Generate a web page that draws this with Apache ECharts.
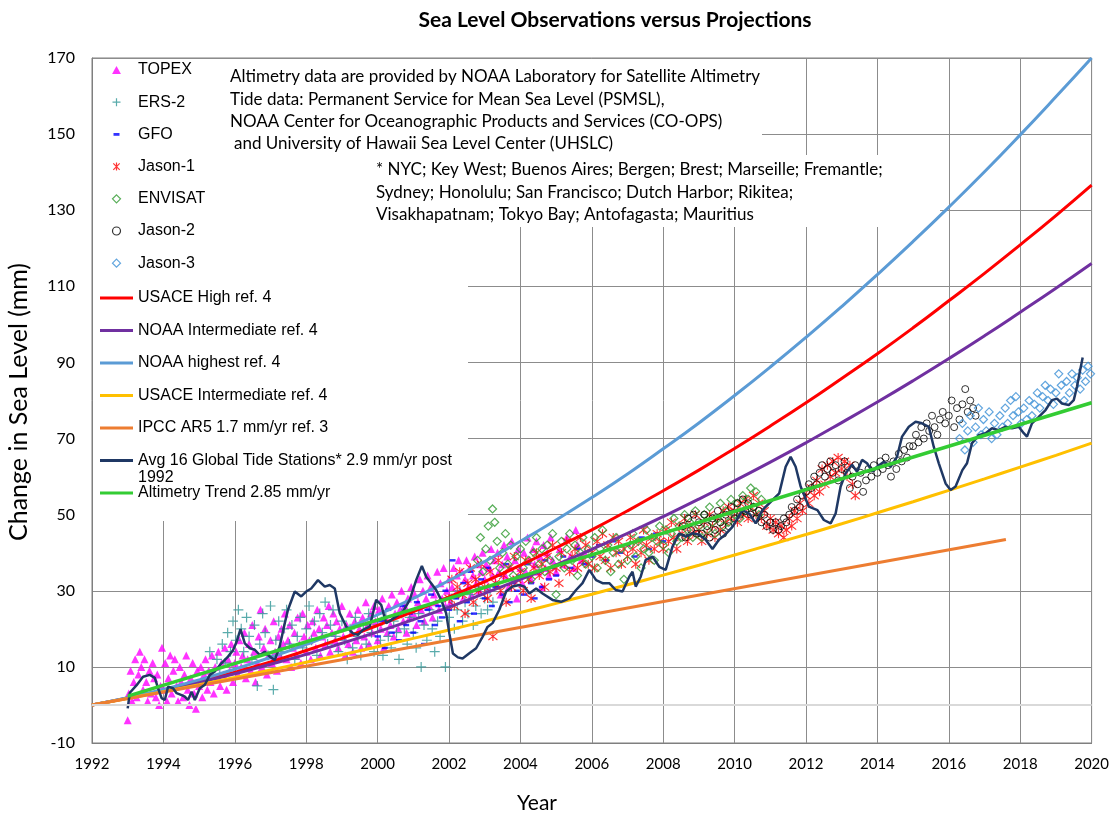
<!DOCTYPE html>
<html><head><meta charset="utf-8">
<script src="https://cdn.jsdelivr.net/npm/echarts@6/dist/echarts.min.js"></script>
<style>html,body{margin:0;padding:0;background:#fff}#c{width:1112px;height:817px}</style>
</head><body><div id="c"></div>
<script>
// ---------- data (year, change in sea level mm) ----------
const xTicks = [1992,1994,1996,1998,2000,2002,2004,2006,2008,2010,2012,2014,2016,2018,2020];
const yTicks = [-10,10,30,50,70,90,110,130,150,170];

const topex = [[1993.00,-4],[1993.03,3],[1993.08,9],[1993.12,1],[1993.17,6],[1993.21,12],[1993.25,2],[1993.30,8],[1993.34,14],[1993.38,10],[1993.43,4],[1993.47,12],[1993.52,6],[1993.56,1],[1993.61,9],[1993.65,3],[1993.70,11],[1993.74,7],[1993.79,2],[1993.83,8],[1993.88,0],[1993.92,5],[1993.96,15],
[1994.01,4],[1994.05,11],[1994.10,1],[1994.14,7],[1994.19,13],[1994.23,3],[1994.28,9],[1994.32,12],[1994.37,5],[1994.41,1],[1994.46,10],[1994.50,6],[1994.55,2],[1994.59,8],[1994.64,13],[1994.68,4],[1994.73,0],[1994.77,7],[1994.82,11],[1994.86,3],[1994.91,-1],[1994.95,9],
[1995.00,5],[1995.05,10],[1995.09,2],[1995.14,8],[1995.18,12],[1995.23,4],[1995.27,9],[1995.32,6],[1995.36,13],[1995.41,3],[1995.45,10],[1995.50,7],[1995.54,14],[1995.59,5],[1995.63,11],[1995.68,8],[1995.72,15],[1995.77,4],[1995.81,12],[1995.86,9],[1995.90,16],[1995.95,6],
[1996.00,11],[1996.04,14],[1996.09,8],[1996.13,17],[1996.18,10],[1996.22,13],[1996.27,19],[1996.31,7],[1996.36,12],[1996.40,16],[1996.45,9],[1996.49,21],[1996.54,14],[1996.58,6],[1996.63,11],[1996.67,18],[1996.72,25],[1996.76,10],[1996.81,15],[1996.85,20],[1996.90,8],[1996.94,13],
[1997.00,17],[1997.04,11],[1997.09,22],[1997.13,14],[1997.18,9],[1997.22,18],[1997.27,13],[1997.31,20],[1997.36,16],[1997.40,24],[1997.45,12],[1997.49,17],[1997.54,21],[1997.58,10],[1997.63,15],[1997.67,19],[1997.72,13],[1997.76,23],[1997.81,16],[1997.85,11],[1997.90,24],[1997.94,18],
[1998.00,14],[1998.04,21],[1998.09,17],[1998.13,12],[1998.18,22],[1998.22,19],[1998.27,15],[1998.31,25],[1998.36,20],[1998.40,13],[1998.45,18],[1998.49,23],[1998.54,16],[1998.58,21],[1998.63,26],[1998.67,14],[1998.72,19],[1998.76,24],[1998.81,17],[1998.85,22],[1998.90,15],[1998.94,20],
[1999.00,26],[1999.04,18],[1999.09,13],[1999.13,21],[1999.18,16],[1999.22,24],[1999.27,19],[1999.31,14],[1999.36,22],[1999.40,17],[1999.45,25],[1999.49,20],[1999.54,15],[1999.58,23],[1999.63,18],[1999.67,27],[1999.72,21],[1999.76,16],[1999.81,24],[1999.85,19],[1999.90,26],[1999.94,22],
[2000.00,17],[2000.04,25],[2000.09,20],[2000.13,28],[2000.18,15],[2000.22,23],[2000.27,19],[2000.31,26],[2000.36,21],[2000.40,29],[2000.45,18],[2000.49,24],[2000.54,27],[2000.58,20],[2000.63,25],[2000.67,30],[2000.72,22],[2000.76,26],[2000.81,19],[2000.85,28],[2000.90,23],[2000.94,31],
[2001.00,24],[2001.04,29],[2001.09,21],[2001.13,27],[2001.18,33],[2001.22,25],[2001.27,30],[2001.31,22],[2001.36,28],[2001.40,34],[2001.45,26],[2001.49,31],[2001.54,23],[2001.58,29],[2001.63,27],[2001.67,35],[2001.72,25],[2001.76,32],[2001.81,28],[2001.85,36],[2001.90,26],[2001.94,30],
[2002.00,33],[2002.04,27],[2002.09,31],[2002.13,36],[2002.18,29],[2002.22,34],[2002.27,38],[2002.31,30],[2002.36,35],[2002.40,28],[2002.45,33],[2002.49,38],[2002.54,31],[2002.58,36],[2002.63,29],[2002.67,34],[2002.72,39],[2002.76,32],[2002.81,37],[2002.85,30],[2002.90,35],[2002.94,40],
[2003.00,33],[2003.04,37],[2003.09,31],[2003.13,36],[2003.18,41],[2003.22,34],[2003.27,38],[2003.31,32],[2003.36,40],[2003.40,35],[2003.45,29],[2003.49,37],[2003.54,42],[2003.58,34],[2003.63,39],[2003.67,31],[2003.72,36],[2003.76,43],[2003.81,33],[2003.85,38],[2003.90,28],[2003.94,41],
[2004.00,36],[2004.05,32],[2004.10,40],[2004.15,35],[2004.20,44],[2004.25,38],[2004.30,33],[2004.35,41],[2004.40,37],[2004.45,43],[2004.50,35],[2004.55,39],[2004.60,31],[2004.65,42],[2004.70,36],[2004.75,40],[2004.80,34],[2004.85,44],[2004.90,38],
[2005.00,35],[2005.10,41],[2005.20,37],[2005.30,44],[2005.40,39],[2005.50,36],[2005.55,46],[2005.60,42],[2005.70,38],[2005.80,40]];

const ers2 = [[1995.30,14],[1995.50,12],[1995.58,8],[1995.65,16],[1995.73,11],[1995.80,19],[1995.88,14],[1995.95,22],
[1996.03,17],[1996.10,25],[1996.18,20],[1996.25,14],[1996.33,23],[1996.40,18],[1996.48,12],[1996.55,21],[1996.63,5],[1996.70,16],[1996.78,24],[1996.85,19],[1996.93,13],
[1997.00,26],[1997.08,4],[1997.15,17],[1997.23,22],[1997.30,14],[1997.38,20],[1997.45,25],[1997.53,16],[1997.60,21],[1997.68,12],[1997.75,18],[1997.83,23],[1997.90,15],
[1998.00,20],[1998.08,26],[1998.15,17],[1998.23,22],[1998.30,13],[1998.38,24],[1998.45,19],[1998.53,27],[1998.60,16],[1998.68,21],[1998.75,25],[1998.83,18],[1998.90,14],
[1999.00,22],[1999.08,17],[1999.15,12],[1999.23,20],[1999.30,15],[1999.38,23],[1999.45,18],[1999.53,13],[1999.60,21],[1999.68,16],[1999.75,24],[1999.83,19],[1999.90,14],
[2000.00,21],[2000.08,17],[2000.15,13],[2000.23,23],[2000.30,18],[2000.38,15],[2000.45,22],[2000.53,19],[2000.60,12],[2000.68,24],[2000.75,20],[2000.83,16],[2000.90,23],
[2001.00,19],[2001.08,15],[2001.15,24],[2001.22,10],[2001.30,21],[2001.38,17],[2001.45,25],[2001.53,20],[2001.60,14],[2001.68,22],[2001.75,18],[2001.83,26],[2001.90,10],
[2002.00,23],[2002.08,28],[2002.15,20],[2002.23,25],[2002.30,30],[2002.38,22],[2002.45,27],[2002.53,24],[2002.60,29],[2002.68,21],[2002.75,26],[2002.83,31],[2002.90,24],
[2003.00,28],[2003.08,25],[2003.15,30],[2003.23,27]];

const gfo = [[2000.00,18],[2000.10,22],[2000.20,15],[2000.30,25],[2000.40,19],[2000.50,23],[2000.60,17],[2000.70,26],[2000.80,21],[2000.90,24],
[2001.00,19],[2001.10,27],[2001.20,22],[2001.30,16],[2001.40,25],[2001.50,29],[2001.60,21],[2001.70,26],[2001.80,23],[2001.90,30],
[2002.00,25],[2002.10,38],[2002.20,28],[2002.30,22],[2002.40,32],[2002.50,27],[2002.60,35],[2002.70,24],[2002.80,30],[2002.90,33],
[2003.00,28],[2003.10,36],[2003.20,26],[2003.30,31],[2003.40,34],[2003.50,29],[2003.60,37],[2003.70,27],[2003.80,32],[2003.90,30],
[2004.00,34],[2004.10,29],[2004.20,37],[2004.30,32],[2004.40,28],[2004.50,35],[2004.60,31],[2004.70,38],[2004.80,33],[2004.90,36],
[2005.00,34],[2005.20,39],[2005.40,36],[2005.60,41],[2005.80,37],[2006.00,39],[2006.20,42],[2006.40,38],[2006.60,43],[2006.80,40],
[2007.00,42],[2007.20,39],[2007.40,44],[2007.60,41],[2007.80,45],[2008.00,43]];

const jason1 = [[2002.00,28],[2002.08,33],[2002.15,26],[2002.23,31],[2002.30,35],[2002.38,29],[2002.45,24],[2002.53,32],[2002.60,36],[2002.68,27],[2002.75,33],[2002.83,30],[2002.90,37],
[2003.00,31],[2003.08,28],[2003.15,35],[2003.23,18],[2003.30,32],[2003.38,38],[2003.45,30],[2003.53,34],[2003.60,27],[2003.68,36],[2003.75,31],[2003.83,39],[2003.90,33],
[2004.00,35],[2004.08,30],[2004.15,38],[2004.23,33],[2004.30,28],[2004.38,36],[2004.45,40],[2004.53,34],[2004.60,37],[2004.68,31],[2004.75,39],[2004.83,35],[2004.90,42],
[2005.00,36],[2005.08,32],[2005.15,40],[2005.23,37],[2005.30,43],[2005.38,35],[2005.45,39],[2005.53,41],[2005.60,36],[2005.68,44],[2005.75,38],[2005.83,42],[2005.90,37],
[2006.00,40],[2006.08,36],[2006.15,43],[2006.23,39],[2006.30,45],[2006.38,38],[2006.45,42],[2006.53,36],[2006.60,44],[2006.68,40],[2006.75,43],[2006.83,37],[2006.90,41],
[2007.00,39],[2007.08,44],[2007.15,41],[2007.23,37],[2007.30,43],[2007.38,40],[2007.45,46],[2007.53,42],[2007.60,38],[2007.68,44],[2007.75,41],[2007.83,45],[2007.90,43],
[2008.00,41],[2008.08,46],[2008.15,43],[2008.23,48],[2008.30,44],[2008.38,41],[2008.45,47],[2008.53,45],[2008.60,49],[2008.68,43],[2008.75,47],[2008.83,45],[2008.90,50],
[2009.00,46],[2009.08,43],[2009.15,48],[2009.23,45],[2009.30,50],[2009.38,47],[2009.45,44],[2009.53,49],[2009.60,46],[2009.68,51],[2009.75,48],[2009.83,52],[2009.90,49],
[2010.00,51],[2010.08,48],[2010.15,53],[2010.23,50],[2010.30,54],[2010.38,49],[2010.45,52],[2010.53,55],[2010.60,50],[2010.68,53],[2010.75,49],[2010.83,51],[2010.90,47],
[2011.00,49],[2011.08,46],[2011.15,48],[2011.23,45],[2011.30,47],[2011.38,44],[2011.45,46],[2011.53,49],[2011.60,47],[2011.68,51],[2011.75,49],[2011.83,53],[2011.90,51],
[2012.00,55],[2012.08,53],[2012.15,57],[2012.23,55],[2012.30,59],[2012.38,56],[2012.45,62],[2012.53,58],[2012.60,63],[2012.68,60],[2012.75,64],[2012.83,61],[2012.90,65],
[2013.00,62],[2013.08,64],[2013.15,60],[2013.23,63],[2013.30,58],[2013.38,55]];

const envisat = [[2002.80,38],[2002.88,44],[2002.95,35],[2003.03,41],[2003.10,47],[2003.15,38],[2003.22,51.5],[2003.28,48],[2003.35,43],[2003.42,36],[2003.50,40],[2003.58,45],[2003.65,37],[2003.73,42],[2003.80,34],[2003.88,39],
[2004.00,41],[2004.08,36],[2004.15,43],[2004.23,38],[2004.30,33],[2004.38,40],[2004.45,44],[2004.53,37],[2004.60,41],[2004.68,35],[2004.75,42],[2004.83,38],[2004.90,45],
[2005.00,29],[2005.08,39],[2005.15,43],[2005.23,36],[2005.30,41],[2005.38,45],[2005.45,38],[2005.53,42],[2005.60,34],[2005.68,40],[2005.75,44],[2005.83,37],[2005.90,41],
[2006.00,39],[2006.08,44],[2006.15,36],[2006.23,41],[2006.30,46],[2006.38,38],[2006.45,42],[2006.53,35],[2006.60,40],[2006.68,44],[2006.75,37],[2006.83,41],[2006.90,33],
[2007.00,38],[2007.08,42],[2007.15,45],[2007.23,39],[2007.30,43],[2007.38,36],[2007.45,41],[2007.53,46],[2007.60,40],[2007.68,44],[2007.75,38],[2007.83,43],[2007.90,47],
[2008.00,42],[2008.08,46],[2008.15,40],[2008.23,45],[2008.30,49],[2008.38,43],[2008.45,47],[2008.53,44],[2008.60,50],[2008.68,46],[2008.75,48],[2008.83,44],[2008.90,51],
[2009.00,47],[2009.08,44],[2009.15,50],[2009.23,46],[2009.30,52],[2009.38,48],[2009.45,45],[2009.53,49],[2009.60,53],[2009.68,47],[2009.75,51],[2009.83,48],[2009.90,54],
[2010.00,50],[2010.08,53],[2010.15,49],[2010.23,55],[2010.30,51],[2010.38,54],[2010.45,57],[2010.53,52],[2010.60,56],[2010.68,50],[2010.75,54]];

const jason2 = [[2008.55,47],[2008.62,44],[2008.70,49],[2008.78,46],[2008.85,50],[2008.93,45],
[2009.00,48],[2009.08,45],[2009.15,50],[2009.23,47],[2009.30,44],[2009.38,49],[2009.45,46],[2009.53,51],[2009.60,48],[2009.68,45],[2009.75,50],[2009.83,47],[2009.90,52],
[2010.00,49],[2010.08,53],[2010.15,50],[2010.23,54],[2010.30,51],[2010.38,53],[2010.45,50],[2010.53,52],[2010.60,49],[2010.68,51],[2010.75,48],[2010.83,50],[2010.90,47],
[2011.00,48],[2011.08,46],[2011.15,48],[2011.23,46],[2011.30,47],[2011.38,49],[2011.45,48],[2011.53,50],[2011.60,52],[2011.68,51],[2011.75,54],[2011.83,52],[2011.90,55],
[2012.00,56],[2012.08,58],[2012.15,57],[2012.23,60],[2012.30,58],[2012.38,61],[2012.45,63],[2012.53,60],[2012.60,62],[2012.68,64],[2012.75,61],[2012.83,63],[2012.90,59],
[2013.00,62],[2013.08,64],[2013.15,61],[2013.23,57],[2013.30,60],[2013.38,63],[2013.45,58],[2013.53,61],[2013.60,56],[2013.68,59],[2013.75,62],[2013.83,60],[2013.90,63],
[2014.00,61],[2014.08,64],[2014.15,62],[2014.23,65],[2014.30,63],[2014.38,60],[2014.45,64],[2014.53,62],[2014.60,66],[2014.68,64],[2014.75,67],[2014.83,65],[2014.90,68],
[2015.00,68],[2015.08,71],[2015.15,69],[2015.23,73],[2015.30,70],[2015.38,74],[2015.45,72],[2015.53,76],[2015.60,73],[2015.68,71],[2015.75,75],[2015.83,77],[2015.90,74],
[2016.00,76],[2016.08,80],[2016.15,73],[2016.23,78],[2016.30,75],[2016.38,79],[2016.46,83],[2016.53,77],[2016.60,80],[2016.68,78],[2016.75,76]];

const jason3 = [[2016.30,70],[2016.38,74],[2016.45,67],[2016.53,72],[2016.60,76],[2016.68,69],[2016.75,73],[2016.83,78],[2016.90,71],[2016.97,75],
[2017.05,72],[2017.13,77],[2017.20,70],[2017.28,74],[2017.35,71],[2017.43,76],[2017.50,73],[2017.58,78],[2017.65,74],[2017.73,80],[2017.80,76],[2017.88,81],[2017.95,77],
[2018.03,74],[2018.10,78],[2018.18,75],[2018.25,80],[2018.33,76],[2018.40,79],[2018.48,82],[2018.55,78],[2018.63,81],[2018.70,84],[2018.78,80],[2018.85,83],[2018.93,79],
[2019.00,82],[2019.08,87],[2019.15,84],[2019.23,80],[2019.30,85],[2019.38,82],[2019.45,87],[2019.53,84],[2019.60,86],[2019.68,83],[2019.75,88],[2019.83,85],[2019.90,89],[2019.97,87]];

const projYears = [1992,1993,1994,1995,1996,1997,1998,1999,2000,2001,2002,2003,2004,2005,2006,2007,2008,2009,2010,2011,2012,2013,2014,2015,2016,2017,2018,2019,2020];
const usaceHigh = [0,1.8,3.9,6.1,8.6,11.3,14.3,17.5,20.9,24.5,28.4,32.4,36.7,41.3,46.0,51.0,56.3,61.7,67.4,73.3,79.4,85.8,92.3,99.1,106.2,113.4,120.9,128.6,136.6];
const noaaIntermediate = [0,1.8,3.8,5.9,8.2,10.7,13.3,16.2,19.2,22.4,25.7,29.3,33.0,36.8,40.9,45.1,49.5,54.1,58.9,63.8,68.9,74.2,79.6,85.2,91.0,97.0,103.2,109.5,116.0];
const noaaHighest = [0,1.9,4.1,6.6,9.4,12.5,15.9,19.6,23.7,28.0,32.7,37.7,43.0,48.6,54.5,60.7,67.3,74.1,81.3,88.8,96.6,104.7,113.1,121.8,130.8,140.1,149.8,159.8,170.0];
const usaceIntermediate = [0,1.7,3.5,5.3,7.2,9.2,11.2,13.2,15.3,17.5,19.7,22.0,24.3,26.7,29.1,31.6,34.1,36.7,39.4,42.1,44.8,47.6,50.5,53.4,56.4,59.4,62.5,65.6,68.8];
const ipccYears = [1992,2017.6];
const ipcc = [0,43.5];
const trendYears = [1993,2020];
const altimetryTrend = [2.3,79.4];

const tideGauge = [[1993.00,-0.9],[1993.06,3.2],[1993.25,5.2],[1993.43,7.4],[1993.62,7.9],[1993.76,7.1],[1993.85,4.4],[1993.95,1.8],[1994.04,1.3],[1994.13,4.8],[1994.27,4.4],[1994.37,3.1],[1994.51,2.6],[1994.60,2.2],[1994.69,1.3],[1994.79,3.5],[1994.88,1.3],[1995.02,4.4],[1995.16,5.3],[1995.30,7.9],[1995.44,8.8],[1995.63,11.0],[1995.81,12.7],[1995.95,14.4],[1996.05,16.6],[1996.16,19.9],[1996.28,16.2],[1996.42,14.9],[1996.56,14.5],[1996.70,13.1],[1996.84,14.0],[1996.98,12.7],[1997.12,11.8],[1997.26,15.5],[1997.40,21.5],[1997.49,25.0],[1997.68,29.8],[1997.86,28.5],[1998.00,29.8],[1998.14,30.6],[1998.33,32.8],[1998.52,31.1],[1998.66,31.5],[1998.80,30.6],[1998.94,24.1],[1999.12,20.6],[1999.31,18.8],[1999.45,18.4],[1999.59,19.7],[1999.78,20.6],[1999.96,27.6],[2000.10,26.3],[2000.24,21.5],[2000.38,22.3],[2000.57,23.6],[2000.71,24.5],[2000.90,27.6],[2001.08,32.8],[2001.24,36.5],[2001.36,33.7],[2001.50,32.0],[2001.64,30.2],[2001.78,27.6],[2001.92,24.1],[2002.01,18.8],[2002.11,13.5],[2002.25,12.5],[2002.38,12.2],[2002.57,13.6],[2002.76,14.9],[2002.94,17.9],[2003.08,20.5],[2003.22,21.5],[2003.41,25.0],[2003.60,29.8],[2003.78,31.1],[2003.97,31.5],[2004.11,31.1],[2004.25,29.3],[2004.44,30.6],[2004.62,29.3],[2004.90,27.6],[2005.14,27.1],[2005.37,28.0],[2005.56,30.2],[2005.74,32.0],[2005.93,35.5],[2006.12,32.8],[2006.30,32.0],[2006.49,32.0],[2006.67,30.2],[2006.86,29.8],[2007.05,33.7],[2007.14,35.0],[2007.23,31.1],[2007.37,33.7],[2007.51,38.1],[2007.70,39.0],[2007.89,36.3],[2008.07,35.5],[2008.26,41.6],[2008.45,45.1],[2008.63,44.2],[2008.82,45.1],[2009.01,44.7],[2009.19,43.4],[2009.38,41.0],[2009.56,43.4],[2009.71,44.5],[2009.94,46.8],[2010.22,51.2],[2010.41,50.3],[2010.59,47.7],[2010.78,51.2],[2010.97,53.0],[2011.25,55.6],[2011.43,62.6],[2011.57,65.2],[2011.71,62.6],[2011.85,57.4],[2012.08,52.1],[2012.32,51.2],[2012.50,48.6],[2012.69,47.7],[2012.83,50.3],[2012.97,57.4],[2013.11,60.9],[2013.29,63.1],[2013.43,61.3],[2013.57,64.4],[2013.71,63.5],[2013.86,61.3],[2013.99,62.6],[2014.18,63.9],[2014.37,62.6],[2014.55,65.2],[2014.69,70.5],[2014.88,73.1],[2015.07,74.4],[2015.25,74.0],[2015.44,73.1],[2015.58,67.8],[2015.72,63.5],[2015.91,58.2],[2016.05,56.5],[2016.19,57.4],[2016.38,61.7],[2016.51,63.5],[2016.65,68.8],[2016.84,70.9],[2017.03,71.4],[2017.21,72.7],[2017.40,72.2],[2017.58,73.1],[2017.77,72.7],[2017.96,73.1],[2018.10,71.4],[2018.19,70.5],[2018.33,74.0],[2018.52,75.7],[2018.71,77.5],[2018.89,80.1],[2019.03,80.5],[2019.17,79.2],[2019.36,78.8],[2019.50,80.1],[2019.59,83.6],[2019.68,88.0],[2019.75,91.3]];

const scatterNames = ['TOPEX','ERS-2','GFO','Jason-1','ENVISAT','Jason-2','Jason-3'];
const lineNames = ['USACE High ref. 4','NOAA Intermediate ref. 4','NOAA highest ref. 4','USACE Intermediate ref. 4','IPCC AR5 1.7 mm/yr ref. 3','Avg 16 Global Tide Stations* 2.9 mm/yr post 1992','Altimetry Trend 2.85 mm/yr'];

// ---------- build ----------
// axis runs -10..170 with ticks every 20 from -10: values are plotted shifted by +10 and labels shifted back
const SHIFT = 10;
const sp = pairs => pairs.map(p => [p[0], p[1] + SHIFT]);
const zipS = (xs, ys) => xs.map((x, i) => [x, ys[i] + SHIFT]);

const FONT_C = 'Lato, "Open Sans", sans-serif';
const FONT_A = '"Liberation Sans", Arial, sans-serif';

const triPath = 'path://M5,0L10,9L0,9Z';
const diaPath = 'path://M5,0L10,5L5,10L0,5Z';
const plusPath = 'path://M5,0L5,10M0,5L10,5';
const asterPath = 'path://M1,1L9,9M9,1L1,9M5,0L5,10';
const dashPath = 'path://M0,0M8,8M1,2.6L7,2.6L7,5.4L1,5.4Z';
const circPath = 'path://M5,0A5,5 0 1,1 4.99,0Z';
const linePath = 'path://M0,0L33,0L33,3L0,3Z';

function scat(name, data, symbol, size, style) {
  return { name, type: 'scatter', data: sp(data), symbol, symbolSize: size, itemStyle: style,
    emphasis: { disabled: true }, silent: true, animation: false };
}
function line(name, data, color, width, smooth) {
  return { name, type: 'line', data, showSymbol: false, symbol: 'none', smooth: !!smooth,
    lineStyle: { color, width }, itemStyle: { color }, emphasis: { disabled: true }, silent: true, animation: false };
}

const series = [
  Object.assign(scat('TOPEX', topex, 'triangle', 8, { color: '#ff00ff' }), {
    markLine: { silent: true, symbol: 'none', label: { show: false }, animation: false,
      lineStyle: { color: '#d9d9d9', width: 2, type: 'solid' }, data: [{ yAxis: 0 + SHIFT }] } }),
  scat('ERS-2', ers2, plusPath, 10, { color: 'none', borderColor: '#2f9696', borderWidth: 1.2 }),
  scat('GFO', gfo, 'rect', [6, 2.5], { color: '#0000ff' }),
  scat('Jason-1', jason1, asterPath, 9, { color: 'none', borderColor: '#ff0000', borderWidth: 1.1 }),
  scat('ENVISAT', envisat, 'diamond', 8, { color: 'rgba(0,0,0,0)', borderColor: '#2e9a2e', borderWidth: 1.2 }),
  scat('Jason-2', jason2, 'circle', 7, { color: 'rgba(0,0,0,0)', borderColor: '#000000', borderWidth: 1 }),
  scat('Jason-3', jason3, 'diamond', 8, { color: 'rgba(0,0,0,0)', borderColor: '#3a8fd6', borderWidth: 1.2 }),
  line(lineNames[0], zipS(projYears, usaceHigh), '#ff0000', 3, true),
  line(lineNames[1], zipS(projYears, noaaIntermediate), '#7030a0', 3, true),
  line(lineNames[2], zipS(projYears, noaaHighest), '#5b9bd5', 3, true),
  line(lineNames[3], zipS(projYears, usaceIntermediate), '#ffc000', 3, true),
  line(lineNames[4], zipS(ipccYears, ipcc), '#ed7d31', 3),
  line(lineNames[5], sp(tideGauge), '#1f3864', 2.5),
  line(lineNames[6], zipS(trendYears, altimetryTrend), '#33cc33', 3.5)
];

const scatterIcons = [triPath, plusPath, dashPath, asterPath, diaPath, circPath, diaPath];
const legendText = { fontFamily: FONT_A, fontSize: 16, color: '#000' };
const option = {
  backgroundColor: '#fff',
  animation: false,
  grid: { left: 92, right: 19, top: 58, bottom: 74, show: true, borderColor: '#7f7f7f', borderWidth: 1, containLabel: false },
  xAxis: {
    type: 'value', min: xTicks[0], max: xTicks[xTicks.length - 1], interval: 2,
    axisLine: { show: true, onZero: false, lineStyle: { color: '#7f7f7f' } },
    axisTick: { show: false },
    splitLine: { show: true, lineStyle: { color: '#8c8c8c', width: 1 } },
    axisLabel: { color: '#000', fontFamily: FONT_C, fontSize: 15, margin: 14, formatter: v => String(v) }
  },
  yAxis: {
    type: 'value', min: yTicks[0] + SHIFT, max: yTicks[yTicks.length - 1] + SHIFT, interval: 20,
    axisLine: { show: true, lineStyle: { color: '#7f7f7f' } },
    axisTick: { show: false },
    splitLine: { show: true, lineStyle: { color: '#8c8c8c', width: 1 } },
    axisLabel: { color: '#000', fontFamily: FONT_C, fontSize: 16, margin: 17, formatter: v => String(v - SHIFT) }
  },
  legend: [
    { data: scatterNames.map((n, i) => ({ name: n, icon: scatterIcons[i] })), orient: 'vertical', left: 110, top: 62, padding: 0,
      itemWidth: 33, itemHeight: 8, symbolKeepAspect: true,
      itemGap: 16.2, textStyle: legendText, selectedMode: false, itemStyle: { borderWidth: 1.2 } },
    { data: lineNames.map(n => ({ name: n, icon: linePath })), orient: 'vertical', left: 100, top: 290, padding: 0,
      itemWidth: 33, itemHeight: 14, symbolKeepAspect: true,
      itemGap: 16.5, textStyle: legendText, selectedMode: false, itemStyle: { borderWidth: 0 },
      formatter: n => n === lineNames[5] ? 'Avg 16 Global Tide Stations* 2.9 mm/yr post' : n }
  ],
  graphic: [
    { type: 'rect', z: 1, silent: true, shape: { x: 93, y: 59, width: 375, height: 462 }, style: { fill: '#fff' } },
    { type: 'rect', z: 1, silent: true, shape: { x: 225, y: 59, width: 537, height: 96 }, style: { fill: '#fff' } },
    { type: 'rect', z: 1, silent: true, shape: { x: 370, y: 155, width: 570, height: 72 }, style: { fill: '#fff' } },
    { type: 'text', z: 10, silent: true, style: { x: 615, y: 20, text: 'Sea Level Observations versus Projections', textAlign: 'center', textVerticalAlign: 'middle', font: 'bold 21px ' + FONT_C, fill: '#000' } },
    { type: 'text', z: 10, silent: true, style: { x: 230, y: 77, text: 'Altimetry data are provided by NOAA Laboratory for Satellite Altimetry', textVerticalAlign: 'middle', font: '17px ' + FONT_C, fill: '#000' } },
    { type: 'text', z: 10, silent: true, style: { x: 230, y: 100, text: 'Tide data: Permanent Service for Mean Sea Level (PSMSL),', textVerticalAlign: 'middle', font: '17px ' + FONT_C, fill: '#000' } },
    { type: 'text', z: 10, silent: true, style: { x: 230, y: 122, text: 'NOAA Center for Oceanographic Products and Services (CO-OPS)', textVerticalAlign: 'middle', font: '17px ' + FONT_C, fill: '#000' } },
    { type: 'text', z: 10, silent: true, style: { x: 234, y: 144, text: 'and University of Hawaii Sea Level Center (UHSLC)', textVerticalAlign: 'middle', font: '17px ' + FONT_C, fill: '#000' } },
    { type: 'text', z: 10, silent: true, style: { x: 376, y: 170, text: '* NYC; Key West; Buenos Aires; Bergen; Brest; Marseille; Fremantle;', textVerticalAlign: 'middle', font: '17px ' + FONT_C, fill: '#000' } },
    { type: 'text', z: 10, silent: true, style: { x: 376, y: 193, text: 'Sydney; Honolulu; San Francisco; Dutch Harbor; Rikitea;', textVerticalAlign: 'middle', font: '17px ' + FONT_C, fill: '#000' } },
    { type: 'text', z: 10, silent: true, style: { x: 376, y: 215, text: 'Visakhapatnam; Tokyo Bay; Antofagasta; Mauritius', textVerticalAlign: 'middle', font: '17px ' + FONT_C, fill: '#000' } },
    { type: 'text', z: 10, silent: true, style: { x: 138, y: 478, text: '1992', textVerticalAlign: 'middle', font: '16px ' + FONT_A, fill: '#000' } },
    { type: 'text', z: 10, silent: true, style: { x: 537, y: 803, text: 'Year', textAlign: 'center', textVerticalAlign: 'middle', font: '21px ' + FONT_C, fill: '#000' } },
    { type: 'text', z: 10, silent: true, rotation: Math.PI / 2, x: 19, y: 402, style: { x: 0, y: 0, text: 'Change in Sea Level (mm)', textAlign: 'center', textVerticalAlign: 'middle', font: '25px ' + FONT_C, fill: '#000' } }
  ],
  series
};

const chart = echarts.init(document.getElementById('c'), null, { renderer: 'canvas' });
chart.setOption(option);
</script></body></html>
